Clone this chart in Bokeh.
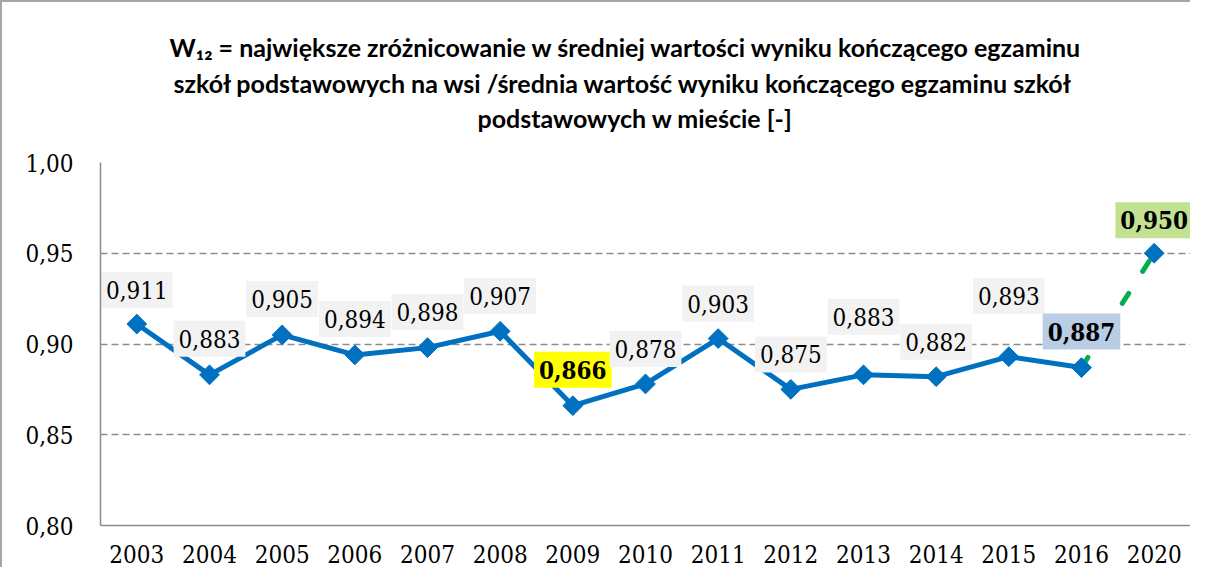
import math
from bokeh.plotting import figure
from bokeh.models import ColumnDataSource, Title, CustomJSTickFormatter, FixedTicker, FactorRange, Range1d
from bokeh.core.properties import value
from bokeh.embed import file_html
from bokeh.resources import INLINE

# ---- data ----
years = ["2003", "2004", "2005", "2006", "2007", "2008", "2009", "2010",
         "2011", "2012", "2013", "2014", "2015", "2016", "2020"]
values = [0.911, 0.883, 0.905, 0.894, 0.898, 0.907, 0.866, 0.878,
          0.903, 0.875, 0.883, 0.882, 0.893, 0.887, 0.950]
y_ticks = [0.80, 0.85, 0.90, 0.95, 1.00]
title_lines = [
    "W\u2081\u2082 = największe zróżnicowanie w średniej wartości wyniku kończącego egzaminu",
    "szkół podstawowych na wsi /średnia wartość wyniku kończącego egzaminu szkół",
    "podstawowych w mieście [-]",
]

# ---- label styling (not data) ----
label_bg = ["#F2F2F2"] * 15
label_bg[6] = "#FFFF00"
label_bg[13] = "#B9CDE5"
label_bg[14] = "#C3E291"
label_style = ["normal"] * 15
for i in (6, 13, 14):
    label_style[i] = "bold"
label_lift = [-34, -36, -36, -36, -36, -35, -36, -35, -35, -35, -58, -35, -61, -36, -33]

labels = [f"{v:.3f}".replace(".", ",") for v in values]

src = ColumnDataSource(dict(x=years, y=values, label=labels, bg=label_bg,
                            style=label_style, yoff=label_lift))

BLUE = "#0070C0"
GREEN = "#00B050"
GRAY = "#8C8C8C"
SERIF = "DejaVu Serif Condensed, DejaVu Serif"

p = figure(x_range=FactorRange(*years), y_range=Range1d(0.80, 1.00),
           width=1190, height=567, output_backend="svg", toolbar_location=None,
           min_border_left=98, min_border_right=2, min_border_top=160,
           min_border_bottom=44, title=None)
p.styles = {"border-left": "2px solid #A6A6A6", "border-top": "2px solid #A6A6A6"}
p.outline_line_color = None
p.background_fill_color = "white"

p.xgrid.grid_line_color = None
p.ygrid.grid_line_color = GRAY
p.ygrid.grid_line_width = 1.3
p.ygrid.grid_line_dash = "7 4"
p.yaxis.ticker = FixedTicker(ticks=y_ticks)
p.yaxis.formatter = CustomJSTickFormatter(code="return tick.toFixed(2).replace('.', ',');")

for ax in (p.xaxis, p.yaxis):
    ax.axis_line_color = GRAY
    ax.axis_line_width = 1.5
    ax.major_tick_line_color = None
    ax.minor_tick_line_color = None
    ax.major_label_text_font = SERIF
    ax.major_label_text_font_size = "24px"
    ax.major_label_text_color = "black"
p.yaxis.major_label_standoff = 21
p.xaxis.major_label_standoff = 13

p.line(years[:-1], values[:-1], line_color=BLUE, line_width=5, line_join="round")
p.line(years[-2:], values[-2:], line_color=GREEN, line_width=5, line_dash="12 26",
       line_cap="round")
p.scatter(years, values, marker="square", angle=math.pi / 4, size=14,
          fill_color=BLUE, line_color=BLUE)

p.text(x="x", y="y", text="label", source=src, y_offset="yoff",
       text_align="center", text_baseline="middle",
       text_font=value(SERIF), text_font_size="24px",
       text_font_style="style", text_color="black",
       background_fill_color="bg", padding=(5, 9))

# blank spacer between plot frame and title block
p.add_layout(Title(text="\u00a0", text_font_size="10px", standoff=15), "above")
title_standoffs = [3, 4, 3]
title_offsets = [69, 73, 377]
for line, so, off in reversed(list(zip(title_lines, title_standoffs, title_offsets))):
    p.add_layout(Title(text=line, align="left", offset=off, standoff=so,
                       text_font="Lato", text_font_style="bold",
                       text_font_size="25px", text_color="black"), "above")

open("out.html", "w").write(file_html(p, INLINE))
